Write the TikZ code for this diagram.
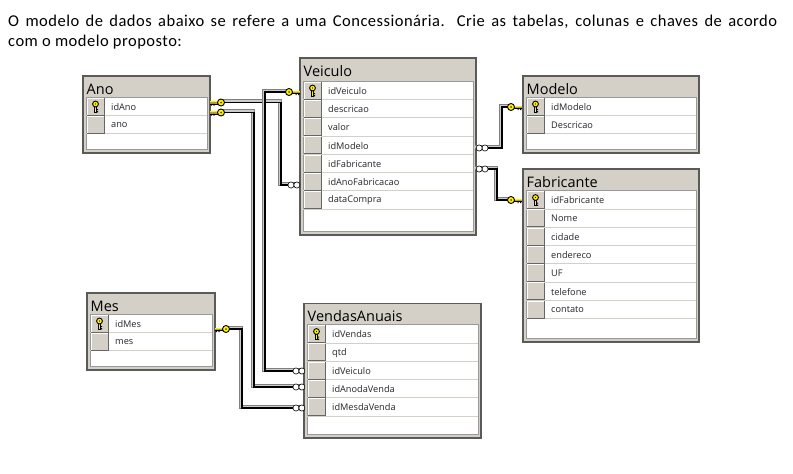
\documentclass[tikz,border=0pt]{standalone}
\usepackage{fontspec}
\setmainfont[LetterSpace=3]{Carlito}
\newfontfamily\tblfont{Open Sans}
\definecolor{panelgray}{HTML}{D4D0C8}
\definecolor{edgegray}{HTML}{5A5A58}
\definecolor{keyyellow}{HTML}{FFF200}
\definecolor{keygold}{HTML}{B8A020}
\tikzset{
  x=1pt,y=-1pt,
  para/.style={inner sep=0pt,anchor=base west,font=\fontsize{16.5}{18}\selectfont},
  tabletitle/.style={inner sep=0pt,anchor=west,font=\tblfont\fontsize{14.5}{16}\selectfont},
  rowlabel/.style={inner sep=0pt,anchor=west,font=\tblfont\fontsize{9.2}{11}\selectfont,text=black!85},
  selbox/.style={draw=none,fill=panelgray,inner sep=0pt,minimum width=17pt,minimum height=17pt},
  conn/.style={line width=1.2pt,black,line join=miter,
    preaction={draw=black!50,line width=3.8pt,transform canvas={shift={(-1.3pt,1.3pt)}}},
    preaction={draw=black!20,line width=1.7pt,transform canvas={shift={(-1.3pt,1.3pt)}}}},
  fkkey/.pic={
    \fill[keygold] (3,-1.3) rectangle (11,1);
    \fill[keyyellow] (3,-1.3) rectangle (11,-0.2);
    \fill[black] (3,1) rectangle (11,1.6);
    \fill[black] (6.5,1.3) rectangle (7.7,3) (9,1.3) rectangle (10.4,3);
    \draw[black,fill=keyyellow,line width=0.9pt] (0,0) circle (3.5);
    \fill[black!70!keyyellow] (0,0) circle (1);
  },
  manyend/.pic={
    \draw[black,fill=white,line width=0.6pt] (-3.2,0) circle (3.1) (-9,0) circle (3.1);
  },
  rowkey/.pic={
    \fill[black] (-1.2,-1) rectangle (1.2,6.2);
    \fill[keyyellow] (-0.5,-1) rectangle (0.5,5.5);
    \fill[black] (1,2.6) rectangle (2.6,3.7) (1,4.8) rectangle (2.6,5.9);
    \draw[black,fill=keyyellow,line width=0.9pt] (0,-2.4) circle (2.9);
    \fill[black] (0,-2.4) circle (0.7);
  },
}
% name, outer x1,y1,x2,y2, panel top, panel bottom, title, rows
\newcommand{\dbtable}[9]{%
  \fill[panelgray] (#2,#3) rectangle (#4,#5);
  \draw[edgegray,line width=1.5pt] (#2,#3) rectangle (#4,#5);
  \node[tabletitle] (#1-title) at (#2+3.5,#3+13) {#8};
  \fill[white] (#2+3,#6) rectangle (#4-3,#7);
  \draw[black!40,line width=0.8pt] (#2+3,#6) rectangle (#4-3,#7);
  \foreach \t [count=\i] in {#9} {
    \pgfmathsetmacro{\cy}{#6+9.4+18.25*(\i-1)}
    \pgfmathsetmacro{\sx}{#2+12.5}
    \pgfmathsetmacro{\lx}{#2+28}
    \draw[panelgray,line width=0.8pt] (#2+3,\cy+9.1) -- (#4-3,\cy+9.1);
    \node[selbox] (#1-sel\i) at (\sx,\cy) {};
    \draw[white,line width=0.8pt] (\sx-8.5,\cy+8.5) -- (\sx-8.5,\cy-8.5) -- (\sx+8.5,\cy-8.5);
    \draw[black!60,line width=0.8pt] (\sx-8.5,\cy+8.5) -- (\sx+8.5,\cy+8.5) -- (\sx+8.5,\cy-8.5);
    \node[rowlabel] (#1-row\i) at (\lx,\cy+0.5) {\t};
  }
  \pic at (#1-sel1) {rowkey};
}
\begin{document}
\begin{tikzpicture}
\useasboundingbox[fill=white] (0,0) rectangle (793,474);
\node[para] (line1) at (8,26) {\makebox[769pt][s]{O modelo de dados abaixo se refere a uma Concessionária. Crie as tabelas, colunas e chaves de acordo}};
\node[para] (line2) at (8,46) {com o modelo proposto:};

\dbtable{ano}{83}{76}{210}{153}{97}{149}{Ano}{idAno,ano}
\dbtable{veiculo}{300}{58}{476}{235}{81}{231}{Veiculo}{idVeiculo,descricao,valor,idModelo,idFabricante,idAnoFabricacao,dataCompra}
\dbtable{modelo}{523}{76}{699}{153}{97}{149}{Modelo}{idModelo,Descricao}
\dbtable{fabricante}{523}{169}{699}{342}{190.5}{338}{Fabricante}{idFabricante,Nome,cidade,endereco,UF,telefone,contato}
\dbtable{mes}{87}{293}{215}{370}{314}{366}{Mes}{idMes,mes}
\dbtable{vendas}{304}{303.5}{481}{438}{324.5}{434}{VendasAnuais}{idVendas,qtd,idVeiculo,idAnodaVenda,idMesdaVenda}

% connector ends
\coordinate (k1) at (221,102.5);
\coordinate (m1) at (300,185);
\coordinate (t1) at (281,0);
\coordinate (k2) at (221,112.5);
\coordinate (m2) at (305,387);
\coordinate (t2) at (254,0);
\coordinate (k3) at (289,92);
\coordinate (m3) at (305,371);
\coordinate (t3) at (265,0);
\coordinate (k4) at (226,329);
\coordinate (m4) at (305,408);
\coordinate (t4) at (242,0);
\coordinate (k5) at (511,107);
\coordinate (m5) at (476,148);
\coordinate (t5) at (502,0);
\coordinate (k6) at (511,200);
\coordinate (m6) at (476,169);
\coordinate (t6) at (497,0);

\draw[conn] (k1) -- (t1|-k1) -- (t1|-m1) -- (m1);
\draw[conn] (k3) -- (t3|-k3) -- (t3|-m3) -- (m3);
\draw[conn] (k2) -- (t2|-k2) -- (t2|-m2) -- (m2);
\draw[conn] (k4) -- (t4|-k4) -- (t4|-m4) -- (m4);
\draw[conn] (k5) -- (t5|-k5) -- (t5|-m5) -- (m5);
\draw[conn] (k6) -- (t6|-k6) -- (t6|-m6) -- (m6);

\pic[xscale=-1] at (k1) {fkkey};
\pic[xscale=-1] at (k2) {fkkey};
\pic[xscale=-1] at (k4) {fkkey};
\pic at (k3) {fkkey};
\pic at (k5) {fkkey};
\pic at (k6) {fkkey};
\pic at (m1) {manyend};
\pic at (m2) {manyend};
\pic at (m3) {manyend};
\pic at (m4) {manyend};
\pic[xscale=-1] at (m5) {manyend};
\pic[xscale=-1] at (m6) {manyend};
\end{tikzpicture}
\end{document}
